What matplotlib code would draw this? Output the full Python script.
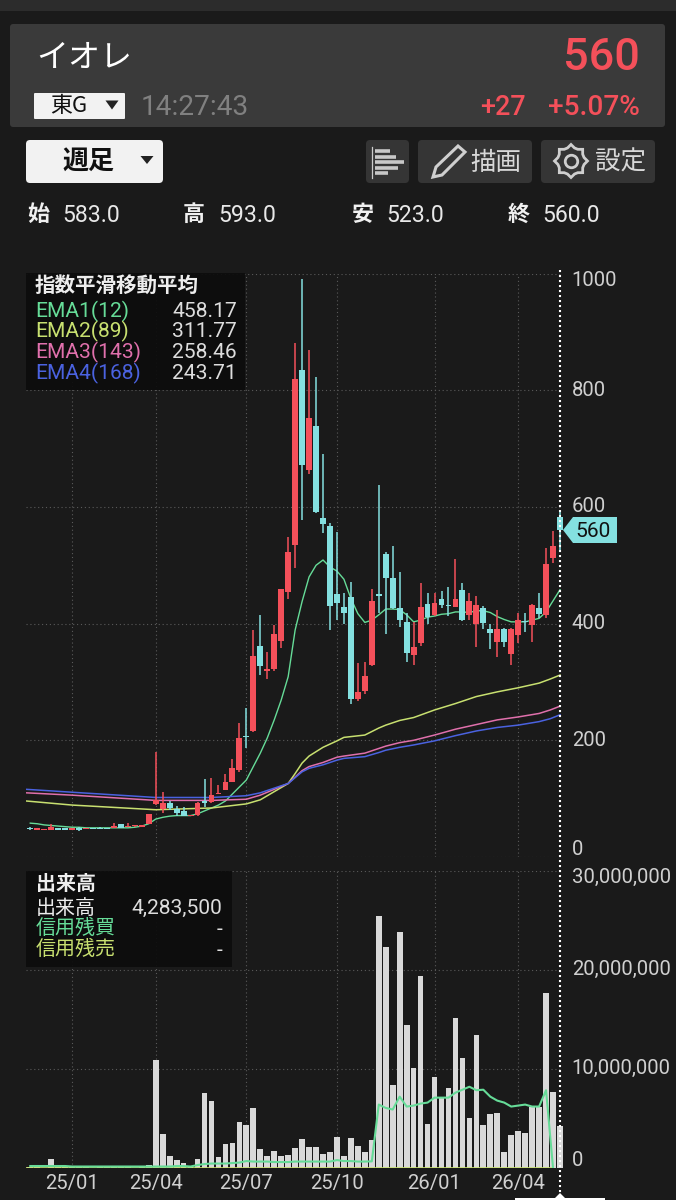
import matplotlib
matplotlib.use('Agg')
import matplotlib.pyplot as plt
import numpy as np
from matplotlib.patches import FancyBboxPatch, Polygon, Rectangle
from matplotlib.transforms import ScaledTranslation

plt.rcParams['font.family'] = ['Roboto', 'Noto Sans CJK JP', 'DejaVu Sans']

# weekly candles, oldest first; week 0 is the last one
weeks = list(range(-76, 1))
opens = [50, 47, 46, 47, 48, 48, 47, 50, 48, 49, 50, 49, 49, 57, 51, 53, 52, 57, 90, 82,
         92, 83, 78, 70, 72, 95, 95, 108, 115, 129, 149, 207, 216, 362, 319, 323, 370, 455, 535, 834,
         663, 739, 581, 567, 450, 429, 446, 270, 285, 329, 450, 520, 479, 426, 403, 346, 366, 434, 415, 443,
         431, 429, 457, 415, 400, 426, 391, 368, 391, 348, 380, 405, 398, 427, 415, 512, 583]
highs = [51, 48, 48, 57, 49, 48, 50, 51, 50, 49, 51, 50, 58, 57, 59, 54, 55, 74, 180, 111,
         96, 87, 85, 72, 95, 133, 135, 123, 143, 168, 229, 255, 389, 415, 351, 398, 459, 548, 881, 991,
         869, 823, 691, 573, 557, 452, 472, 333, 335, 459, 637, 523, 533, 488, 418, 403, 470, 452, 453, 456,
         462, 510, 469, 452, 448, 431, 400, 424, 392, 393, 419, 418, 434, 452, 529, 559, 593]
lows = [47, 46, 46, 47, 46, 47, 47, 45, 48, 48, 48, 48, 49, 50, 51, 52, 52, 56, 89, 75,
        81, 70, 70, 70, 70, 86, 92, 108, 115, 128, 146, 186, 215, 312, 305, 319, 359, 443, 496, 578,
        656, 590, 556, 389, 406, 399, 263, 268, 280, 327, 418, 383, 425, 395, 334, 329, 362, 400, 413, 427,
        413, 428, 404, 407, 360, 390, 356, 342, 360, 329, 367, 386, 369, 409, 409, 503, 523]
closes = [48, 47, 47, 51, 47, 47, 49, 47, 49, 48, 48, 48, 53, 50, 53, 53, 55, 74, 98, 92,
          84, 75, 70, 72, 93, 93, 107, 110, 129, 153, 204, 205, 345, 328, 321, 383, 459, 523, 819, 671,
          753, 591, 571, 430, 436, 419, 270, 283, 310, 439, 447, 479, 426, 407, 349, 360, 429, 411, 435, 432,
          430, 442, 407, 439, 432, 401, 384, 391, 369, 391, 406, 402, 432, 416, 502, 533, 560]

ema1 = [58, 57, 55, 54, 53, 52, 51, 51, 50, 50, 50, 50, 50, 50, 50, 51, 53, 57, 65, 68,
        70, 71, 71, 71, 74, 79, 84, 89, 96, 108, 120, 132, 155, 178, 204, 235, 269, 309, 389, 438,
        480, 500, 509, 497, 490, 476, 443, 417, 402, 406, 415, 425, 425, 424, 415, 403, 406, 411, 413, 416,
        417, 420, 420, 419, 422, 422, 419, 412, 407, 403, 403, 403, 406, 409, 420, 439, 458]

# slow averages, read at the weeks where their slope changes
slow_weeks = [-76.6, -70, -58, -50, -45, -43, -41, -39, -38, -37, -36, -34, -32, -31, -28, -26, -25, -23, -21, -18,
              -15, -12, -9, -6, -3, -1.4, 0]
ema2 = [96, 89, 81, 84, 91, 98, 112, 126, 143, 161, 173, 188, 199, 205, 209, 221, 226, 234, 239, 252,
        263, 275, 283, 290, 298, 305, 311.77]
ema3 = [110, 106, 97, 97, 99, 106, 116, 126, 137, 148, 155, 162, 171, 173, 178, 186, 190, 196, 200, 209,
        219, 227, 235, 240, 246, 252, 258.46]
ema4 = [116, 111, 102, 102, 105, 110, 118, 126, 136, 146, 152, 158, 166, 169, 172, 179, 183, 188, 192, 199,
        208, 216, 222, 226, 232, 237, 243.71]

volume = [0.1, 0.1, 0.05, 0.94, 0.15, 0.1, 0.1, 0.1, 0.1, 0.05, 0.1, 0.1, 0.1, 0.15, 0.1, 0.05, 0.1, 0.3, 10.9, 3.4,
          1.25, 0.8, 0.5, 0.25, 0.95, 7.6, 6.8, 1.1, 2.4, 2.5, 4.6, 4.3, 6.1, 1.9, 1.2, 1.7, 1.2, 1.3, 2.0, 2.9,
          2.1, 2.1, 1.4, 1.65, 3.1, 1.2, 3.0, 2.25, 1.6, 2.8, 25.4, 22.3, 8.4, 23.8, 14.4, 10.1, 19.4, 4.4, 9.2, 7.1,
          8.05, 15.1, 11.1, 5.05, 13.4, 4.3, 5.4, 5.6, 1.65, 3.3, 3.7, 3.5, 6.2, 6.2, 17.7, 7.7, 4.28]
margin_buy = [0.2, 0.2, 0.2, 0.2, 0.2, 0.2, 0.15, 0.15, 0.15, 0.15, 0.15, 0.15, 0.15, 0.15, 0.15, 0.15, 0.15, 0.15, 0.15, 0.15,
              0.15, 0.2, 0.2, 0.15, 0.3, 0.4, 0.45, 0.45, 0.45, 0.5, 0.55, 0.7, 0.65, 0.65, 0.65, 0.6, 0.6, 0.6, 0.65, 0.65,
              0.65, 0.65, 0.65, 0.65, 0.8, 0.7, 0.7, 0.65, 0.65, 0.67, 6.4, 6.06, 5.9, 7.2, 6.2, 6.3, 6.5, 6.6, 7.1, 7.1,
              7.1, 7.6, 7.9, 8.2, 7.85, 7.9, 7.2, 6.8, 6.6, 6.2, 6.3, 6.4, 6.2, 6.2, 7.85, 0]
margin_sell_weeks = [-76.6, -1]
margin_sell = [0.03, 0.03]

price_ticks = [0, 200, 400, 600, 800, 1000]
volume_ticks = [0, 10, 20, 30]
volume_tick_labels = ['0', '10,000,000', '20,000,000', '30,000,000']
month_weeks = [-70, -58, -45, -32, -18, -6]
month_labels = ['25/01', '25/04', '25/07', '25/10', '26/01', '26/04']

ema_legend = [('EMA1(12)', '458.17'), ('EMA2(89)', '311.77'), ('EMA3(143)', '258.46'), ('EMA4(168)', '243.71')]
ohlc_labels = [('始', '583.0'), ('高', '593.0'), ('安', '523.0'), ('終', '560.0')]

BG = '#1a1a1a'
RED = '#f4505a'
CYAN = '#84e0e0'
GREEN = '#66dc98'
YELLOW = '#c8e070'
PINK = '#e070ac'
BLUE = '#4a62e0'
GRID = '#5a5a5a'
TICK = '#d0d0d0'
JP = ['Noto Sans CJK JP', 'DejaVu Sans']

W, H = 676, 1200
WEEK_PX = 6.97


def px_axes(fig, left, top, right, bottom):
    return fig.add_axes([left / W, 1 - bottom / H, (right - left) / W, (bottom - top) / H])


def setup_pane(ax, ylim):
    ax.set_facecolor('none')
    ax.set_xlim(-(560 - 26) / WEEK_PX, 4 / WEEK_PX)
    ax.set_ylim(*ylim)
    for s in ax.spines.values():
        s.set_visible(False)
    ax.yaxis.tick_right()
    ax.tick_params(length=0, pad=5.5, labelsize=14.6, labelcolor=TICK)
    for m in month_weeks:
        ax.plot([m, m], ylim, color=GRID, lw=0.8, ls=(0, (1, 2.5)), zorder=1)


def place_tick_labels(fig, ax, top_tick):
    # first and last labels sit inside the pane, as in the app
    for lab, t in zip(ax.get_yticklabels(), ax.get_yticks()):
        if t == top_tick:
            lab.set_va('top')
            lab.set_transform(lab.get_transform() + ScaledTranslation(0, 2.5 / 100, fig.dpi_scale_trans))
        elif t == 0:
            lab.set_va('bottom')
            lab.set_transform(lab.get_transform() + ScaledTranslation(0, -2 / 100, fig.dpi_scale_trans))
        else:
            lab.set_va('center')


fig = plt.figure(figsize=(W / 100, H / 100), dpi=100, facecolor=BG)

# price pane
ax = px_axes(fig, 26, 273.5, 564, 857)
setup_pane(ax, (0, 1000))
for t in price_ticks:
    ax.plot([ax.get_xlim()[0], 0], [t, t], color=GRID, lw=0.8, ls=(0, (1, 2.5)), zorder=1)
ax.plot(weeks, ema1, color=GREEN, lw=1.0, zorder=2)
ax.plot(slow_weeks, ema2, color=YELLOW, lw=1.1, zorder=2)
ax.plot(slow_weeks, ema3, color=PINK, lw=1.1, zorder=2)
ax.plot(slow_weeks, ema4, color=BLUE, lw=1.1, zorder=2)
for w, o, h, l, c in zip(weeks, opens, highs, lows, closes):
    col = RED if c >= o else CYAN
    ax.plot([w, w], [l, h], color=col, lw=1.1, solid_capstyle='butt', zorder=3)
    ax.bar(w, max(abs(c - o), 2.5), bottom=min(o, c), width=0.84, color=col, lw=0, zorder=3)
ax.set_xticks([])
ax.set_yticks(price_ticks)
ax.set_yticklabels([str(t) for t in price_ticks])
place_tick_labels(fig, ax, 1000)

# volume pane
vx = px_axes(fig, 26, 870.7, 564, 1168)
setup_pane(vx, (0, 30))
for t in volume_ticks:
    vx.plot([vx.get_xlim()[0], 0], [t, t], color=GRID, lw=0.8, ls=(0, (1, 2.5)), zorder=1)
vx.bar(weeks, volume, width=0.82, color='#d9d9d9', lw=0, zorder=2)
vx.plot(margin_sell_weeks, margin_sell, color=YELLOW, lw=1.2, zorder=3)
vx.plot(weeks[:-1], margin_buy, color=GREEN, lw=1.5, zorder=4)
vx.set_yticks(volume_ticks)
vx.set_yticklabels(volume_tick_labels)
place_tick_labels(fig, vx, 30)
vx.set_xticks(month_weeks)
vx.set_xticklabels(month_labels)
vx.tick_params(axis='x', pad=4.5)

# everything around the panes, in pixel coordinates
ui = fig.add_axes([0, 0, 1, 1], zorder=5)
ui.set_xlim(0, W)
ui.set_ylim(H, 0)
ui.axis('off')


def rbox(x0, y0, x1, y1, color, r=4, alpha=1):
    ui.add_patch(FancyBboxPatch((x0, y0), x1 - x0, y1 - y0, boxstyle=f'round,pad=0,rounding_size={r}',
                                fc=color, ec='none', alpha=alpha))


def txt(x, y, s, size, color='white', ha='left', jp=False, weight='normal'):
    ui.text(x, y + 1.5, s, fontsize=size * 0.72, color=color, ha=ha, va='center', weight=weight,
            family=JP if jp else 'Roboto')


def down_tri(x, y, w, h, color):
    ui.add_patch(Polygon([(x - w / 2, y - h / 2), (x + w / 2, y - h / 2), (x, y + h / 2)], fc=color, ec='none'))


ui.add_patch(Rectangle((0, 0), W, 11, fc='#2c2c2c', ec='none'))

# header
rbox(10, 24, 665, 127, '#3a3a3a', r=3)
txt(36, 56, 'イオレ', 32, jp=True)
txt(640, 57, '560', 45, RED, ha='right', weight='medium')
rbox(34, 93, 125, 119, '#f2f2f2', r=1)
txt(50, 105, '東G', 22, '#111111', jp=True)
down_tri(112, 105, 13, 9, '#222222')
txt(141, 106, '14:27:43', 28, '#808080')
txt(526, 106, '+27', 27, RED, ha='right', weight='medium')
txt(640, 106, '+5.07%', 28, RED, ha='right', weight='medium')

# buttons
rbox(26, 140, 163, 183, '#f2f2f2', r=4)
txt(88, 160, '週足', 26, '#111111', ha='center', jp=True, weight='bold')
down_tri(147, 160, 13, 8, '#222222')
rbox(366, 140, 409, 183, '#353535', r=4)
ui.plot([372, 372], [147, 178], color='#cccccc', lw=0.9)
for by, bx in zip([151, 156.5, 162, 167.5, 173], [390, 396, 404, 398, 388]):
    ui.plot([375, bx], [by, by], color='#c8c8c8', lw=2.6, solid_capstyle='butt')
rbox(418, 140, 532, 183, '#353535', r=4)
ui.add_patch(Polygon([(433, 177), (436, 167), (458, 146), (465, 152), (442, 175)], fc='none', ec='#cfcfcf', lw=2.2))
txt(496, 161, '描画', 25.5, '#d8d8d8', ha='center', jp=True)
rbox(541, 140, 655, 183, '#353535', r=4)
# gear outline
ang = np.linspace(0, 2 * np.pi, 24, endpoint=False)
rad = np.where(np.arange(24) % 3 == 0, 16.5, 13.5)
ui.add_patch(Polygon(np.c_[571 + rad * np.cos(ang), 161 + rad * np.sin(ang)], fc='none', ec='#cfcfcf', lw=2.0))
ui.plot([571], [161], marker='o', ms=9, mfc='none', mec='#cfcfcf', mew=2.0)
txt(620, 161, '設定', 25.5, '#d8d8d8', ha='center', jp=True)

# ohlc row
for (lab, val), x0, x1 in zip(ohlc_labels, [27, 183, 352, 508], [62, 218, 386, 542]):
    txt(x0, 213, lab, 22, '#f0f0f0', jp=True, weight='bold')
    txt(x1, 213.5, val, 23, '#e8e8e8')

# legends
rbox(26, 273, 245, 390, '#0c0c0c', r=0, alpha=0.92)
txt(35, 284, '指数平滑移動平均', 20.5, '#eeeeee', jp=True, weight='bold')
for (name, val), y, col in zip(ema_legend, [310, 330, 351, 372], [GREEN, YELLOW, PINK, BLUE]):
    txt(35, y, name, 21, col)
    txt(237, y, val, 21, '#dddddd', ha='right')

rbox(26, 871, 232, 967, '#0c0c0c', r=0, alpha=0.92)
txt(36, 882, '出来高', 20, '#eeeeee', jp=True, weight='bold')
txt(36, 907, '出来高', 20, '#eeeeee', jp=True)
txt(222, 907, '4,283,500', 21, '#dddddd', ha='right')
txt(36, 927, '信用残買', 20, GREEN, jp=True)
txt(222, 928, '-', 21, '#dddddd', ha='right')
txt(36, 948, '信用残売', 20, YELLOW, jp=True)
txt(222, 949, '-', 21, '#dddddd', ha='right')

# crosshair and last price tag
ui.plot([560, 560], [270, 1193], color='white', lw=1.5, ls=(0, (1, 1.4)))
ui.add_patch(Polygon([(563, 530), (573, 517), (617, 517), (617, 543), (573, 543)], fc=CYAN, ec='none'))
txt(593, 530, '560', 21, '#111111', ha='center')
ui.add_patch(Polygon([(554, 1199), (560, 1193), (566, 1199)], fc='white', ec='none'))
ui.add_patch(Rectangle((515, 1198), 90, 2, fc='white', ec='none'))

fig.savefig('out.png', dpi=100, facecolor=BG)
